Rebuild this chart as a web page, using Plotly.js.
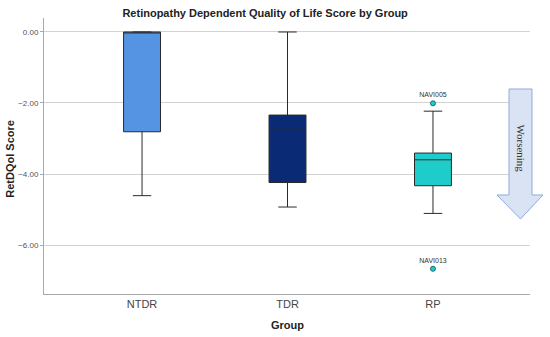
<!DOCTYPE html>
<html>
<head>
<meta charset="utf-8">
<script src="https://cdn.plot.ly/plotly-3.0.1.min.js"></script>
<style>
  html, body { margin: 0; padding: 0; background: #fff; }
  #chart { width: 550px; height: 337px; }
</style>
</head>
<body>
<div id="chart"></div>
<script>
// Data
const groups = ['NTDR', 'TDR', 'RP'];
const q1Values = [-2.81, -4.24, -4.33];
const medianValues = [0.0, -2.70, -3.60];
const q3Values = [0.0, -2.34, -3.41];
const lowerFenceValues = [-4.61, -4.93, -5.11];
const upperFenceValues = [0.0, 0.0, -2.23];
const boxColors = ['#5594E3', '#0B2A76', '#1ECDC9'];

const outlierGroups = ['RP', 'RP'];
const outlierValues = [-2.01, -6.67];
const outlierLabels = ['NAVI005', 'NAVI013'];

const yTickValues = [0, -2, -4, -6];

const traces = groups.map((g, i) => ({
  type: 'box',
  name: g,
  x: [g],
  q1: [q1Values[i]],
  median: [medianValues[i]],
  q3: [q3Values[i]],
  lowerfence: [lowerFenceValues[i]],
  upperfence: [upperFenceValues[i]],
  boxpoints: false,
  width: 0.254,
  whiskerwidth: 0.5,
  fillcolor: boxColors[i],
  line: { color: '#2a2a2a', width: 1 },
  hoverinfo: 'skip',
  showlegend: false
}));

traces.push({
  type: 'scatter',
  mode: 'markers+text',
  x: outlierGroups,
  y: outlierValues,
  text: outlierLabels,
  textposition: 'top center',
  textfont: { family: 'Liberation Sans, Arial, sans-serif', size: 7, color: '#333' },
  marker: { color: '#1ECDC9', size: 5, line: { color: '#1a6f6c', width: 1 } },
  showlegend: false,
  hoverinfo: 'skip',
  cliponaxis: false
});

const layout = {
  width: 550,
  height: 337,
  margin: { l: 44, r: 20, t: 18, b: 43 },
  paper_bgcolor: '#fff',
  plot_bgcolor: '#fff',
  font: { family: 'Liberation Sans, Arial, sans-serif', color: '#333' },
  boxmode: 'overlay',
  title: {
    text: '<b>Retinopathy Dependent Quality of Life Score by Group</b>',
    font: { size: 11, color: '#222' },
    x: 0.455, xref: 'paper', xanchor: 'center',
    y: 0.961, yref: 'container', yanchor: 'middle'
  },
  xaxis: {
    type: 'category',
    categoryarray: groups,
    range: [-0.674, 2.667],
    showgrid: false,
    zeroline: false,
    showline: true,
    linecolor: '#aaa',
    linewidth: 1,
    ticks: '',
    tickfont: { size: 11, color: '#444' },
    fixedrange: true
  },
  yaxis: {
    range: [-7.38, 0.394],
    tickvals: yTickValues,
    tickformat: '.2f',
    showgrid: true,
    gridcolor: '#d3d3d3',
    gridwidth: 1,
    zeroline: false,
    showline: true,
    linecolor: '#aaa',
    linewidth: 1,
    ticks: 'outside',
    ticklen: 3,
    tickcolor: '#aaa',
    tickfont: { size: 8, color: '#555' },
    fixedrange: true
  },
  shapes: [{
    type: 'path',
    xref: 'paper', yref: 'paper',
    path: 'M 0.9568 0.7428 L 1.0041 0.7428 L 1.0041 0.3587 L 1.0267 0.3587 L 0.9805 0.2717 L 0.9321 0.3587 L 0.9568 0.3587 Z',
    fillcolor: '#DAE3F3',
    line: { color: '#8FAADC', width: 1 },
    layer: 'above'
  }],
  annotations: [
    {
      text: '<b>RetDQol Score</b>',
      xref: 'paper', yref: 'paper',
      x: -0.07, y: 0.49,
      xanchor: 'center', yanchor: 'middle',
      textangle: -90,
      showarrow: false,
      font: { size: 11, color: '#222' }
    },
    {
      text: '<b>Group</b>',
      xref: 'paper', yref: 'paper',
      x: 0.5, y: -0.112,
      xanchor: 'center', yanchor: 'middle',
      showarrow: false,
      font: { size: 11, color: '#222' }
    },
    {
      text: 'Worsening',
      xref: 'paper', yref: 'paper',
      x: 0.9805, y: 0.529,
      xanchor: 'center', yanchor: 'middle',
      textangle: 90,
      showarrow: false,
      font: { family: 'Liberation Serif, Times New Roman, serif', size: 11, color: '#333' }
    }
  ]
};

Plotly.newPlot('chart', traces, layout, { displayModeBar: false, staticPlot: true });
</script>
</body>
</html>
